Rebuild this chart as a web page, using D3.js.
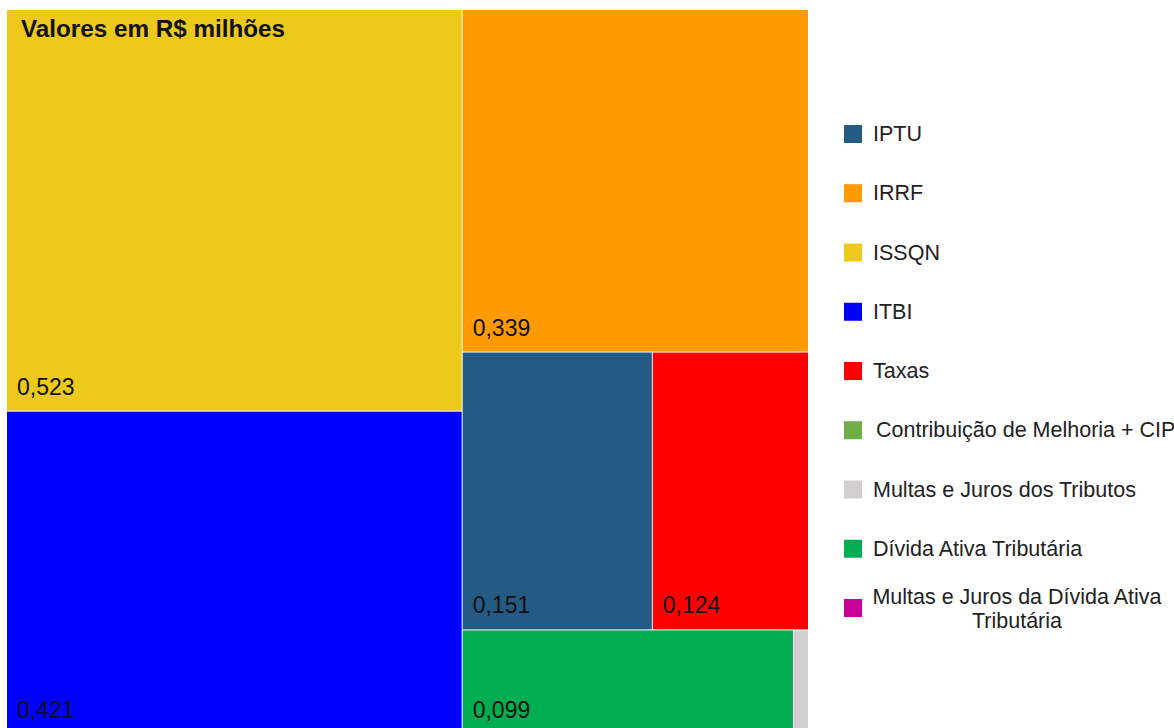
<!DOCTYPE html>
<html><head><meta charset="utf-8">
<script src="https://cdn.jsdelivr.net/npm/d3@7"></script>
<style>html,body{margin:0;padding:0;background:#fff;overflow:hidden}svg{display:block}</style>
</head><body>
<svg id="c" width="1174" height="728"></svg>
<script>
const categories = ["IPTU","IRRF","ISSQN","ITBI","Taxas","Contribuição de Melhoria + CIP","Multas e Juros dos Tributos","Dívida Ativa Tributária","Multas e Juros da Dívida Ativa Tributária"];
const values = [0.151, 0.339, 0.523, 0.421, 0.124, 0, 0.0045, 0.099, 0];
const labels = ["0,151","0,339","0,523","0,421","0,124","","","0,099",""];
const colors = ["#245B84","#FF9A00","#ECC91A","#0000FF","#FF0000","#70AD47","#D0CECE","#00AD50","#C8009A"];
const title = "Valores em R$ milhões";

const svg = d3.select("#c");
const font = "'Liberation Sans', Arial, sans-serif";

const data = categories.map((c,i)=>({name:c, value:values[i], label:labels[i], color:colors[i]}));
const root = d3.hierarchy({children:data.filter(d=>d.value>0)})
  .sum(d=>d.value||0)
  .sort((a,b)=>b.value-a.value);
d3.treemap().tile(d3.treemapSquarify.ratio(1)).size([801,724]).paddingInner(1).round(false)(root);

const g = svg.append("g").attr("transform","translate(7,10)");
const cell = g.selectAll("g.cell").data(root.leaves()).join("g").attr("class","cell");
cell.append("rect")
  .attr("x",d=>d.x0).attr("y",d=>d.y0)
  .attr("width",d=>d.x1-d.x0).attr("height",d=>d.y1-d.y0)
  .attr("fill",d=>d.data.color);
cell.filter(d=>d.data.label && d.x1-d.x0>40).append("text")
  .attr("x",d=>d.x0+10).attr("y",d=>d.y1-16)
  .attr("font-family",font).attr("font-size",23).attr("fill","#111")
  .text(d=>d.data.label);

svg.append("text").attr("x",21).attr("y",37)
  .attr("font-family",font).attr("font-size",24).attr("font-weight","bold").attr("fill","#111")
  .attr("textLength",264).attr("lengthAdjust","spacingAndGlyphs")
  .text(title);

// legend
const ly = d3.scalePoint().domain(categories).range([134,608]);
const lg = svg.append("g");
const item = lg.selectAll("g").data(data).join("g");
item.append("rect").attr("x",844).attr("y",d=>ly(d.name)-9).attr("width",18).attr("height",18).attr("fill",d=>d.color);
item.each(function(d){
  const t = d3.select(this);
  if (d.name === "Multas e Juros da Dívida Ativa Tributária") {
    const tx = t.append("text").attr("font-family",font).attr("font-size",21.5).attr("fill","#222").attr("text-anchor","middle");
    tx.append("tspan").attr("x",1017).attr("y",ly(d.name)-4).text("Multas e Juros da Dívida Ativa");
    tx.append("tspan").attr("x",1017).attr("y",ly(d.name)+20).text("Tributária");
  } else {
    t.append("text").attr("x", d.name.startsWith("Contribui")?876:873).attr("y",ly(d.name)+7)
      .attr("font-family",font).attr("font-size",21.5).attr("fill","#222").text(d.name);
  }
});
</script>
</body></html>
